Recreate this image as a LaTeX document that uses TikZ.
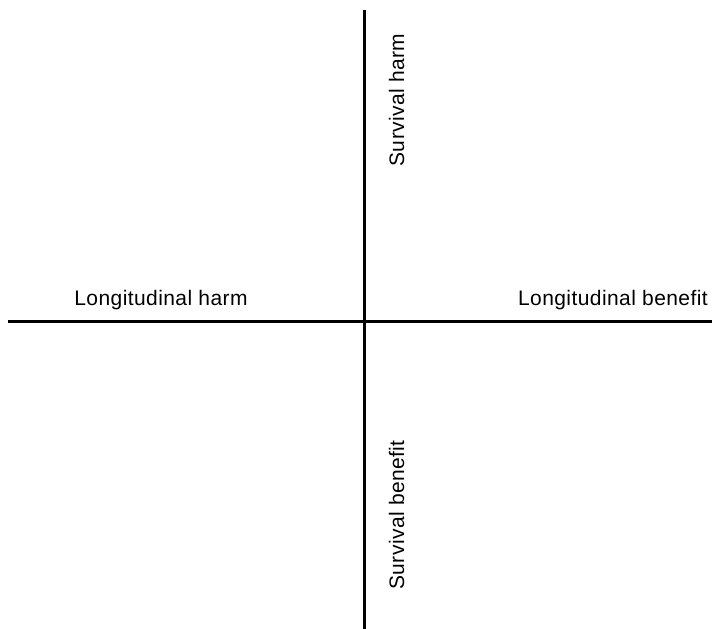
\documentclass[tikz,border=0pt]{standalone}
\usepackage{fontspec}
\setmainfont{Liberation Sans}[LetterSpace=2]
\begin{document}
\begin{tikzpicture}[x=1pt,y=1pt,
  axis/.style={line width=3pt,black},
  lbl/.style={inner sep=0pt,font=\fontsize{21}{24}\selectfont}]
\useasboundingbox (0,0) rectangle (712,-629);
\coordinate (hl) at (8,-321.5);
\coordinate (hr) at (712,-321.5);
\coordinate (vt) at (364.5,-10);
\coordinate (vb) at (364.5,-629);
\draw[axis] (hl) -- (hr);
\draw[axis] (vt) -- (vb);
\node[lbl,anchor=base] (lh) at (161,-305) {Longitudinal harm};
\node[lbl,anchor=base east] (lb) at (708,-305) {Longitudinal benefit};
\node[lbl,rotate=90,anchor=base] (sh) at (404,-100) {Survival harm};
\node[lbl,rotate=90,anchor=base] (sb) at (404,-515) {Survival benefit};
\end{tikzpicture}
\end{document}
